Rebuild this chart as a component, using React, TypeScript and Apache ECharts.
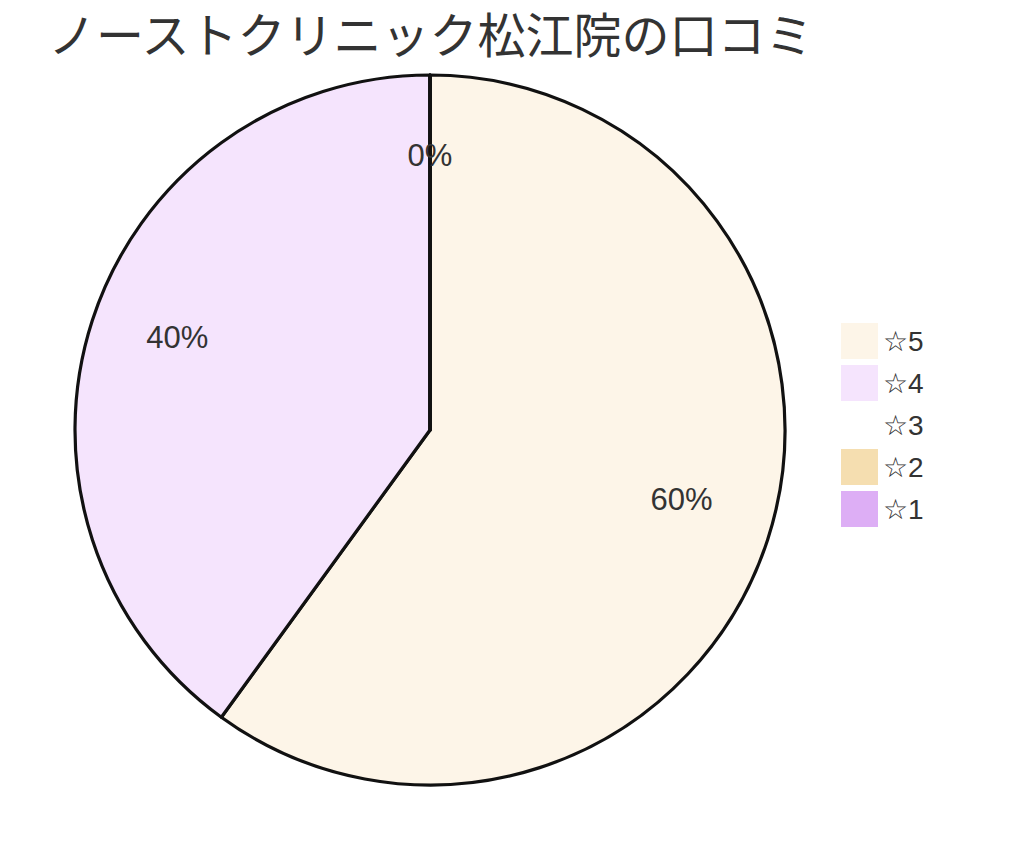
import React, { useEffect, useRef } from "react";
import * as echarts from "echarts";

const TITLE = "ノーストクリニック松江院の口コミ";
const categories = ["☆5", "☆4", "☆3", "☆2", "☆1"];
const values = [60, 40, 0, 0, 0];
const colors = ["#FDF5E8", "#F5E4FD", "#FFFFFF", "#F5DEB0", "#DDAEF5"];
// small per-label nudges: horizontal padding [right, left] and a spacer height below the text
const labelPadsH = [
  [16, 0],
  [0, 14],
  [0, 0],
  [0, 0],
  [0, 0],
];
const labelLift = [30, 16, 4, 4, 4];

export default function App() {
  const ref = useRef<HTMLDivElement>(null);
  useEffect(() => {
    document.body.style.margin = "0";
    const chart = echarts.init(ref.current!, null, { renderer: "svg" });
    const data = categories.map((name, i) => ({ name, value: values[i], itemStyle: { color: colors[i] } }));
    const rich: any = {
      t: { fontSize: 31, color: "#333333", fontFamily: "Liberation Sans", lineHeight: 36 },
    };
    labelLift.forEach((h, i) => {
      rich["s" + i] = { height: h, lineHeight: h, fontSize: 1 };
    });
    chart.setOption({
      animation: false,
      backgroundColor: "#FFFFFF",
      title: {
        text: TITLE,
        left: 48,
        top: 8,
        padding: 0,
        textStyle: { fontSize: 48, fontWeight: "normal", color: "#333333", fontFamily: "Noto Sans CJK JP" },
      },
      legend: {
        orient: "vertical",
        left: 841,
        top: 323,
        padding: 0,
        itemWidth: 37,
        itemHeight: 36,
        itemGap: 6,
        icon: "rect",
        data: categories,
        itemStyle: { borderWidth: 0 },
        textStyle: { fontSize: 28, lineHeight: 36, color: "#333333", fontFamily: "Liberation Sans" },
      },
      series: [
        {
          type: "pie",
          center: [430, 430],
          radius: [0, 355],
          startAngle: 90,
          clockwise: true,
          data,
          label: { show: false },
          labelLine: { show: false },
          itemStyle: { borderColor: "#111111", borderWidth: 3.2 },
          emphasis: { disabled: true },
        },
        {
          type: "pie",
          center: [430, 430],
          radius: [185, 355],
          startAngle: 90,
          clockwise: true,
          silent: true,
          legendHoverLink: false,
          data: categories.map((name, i) => ({
            name,
            value: values[i],
            label: { padding: [0, labelPadsH[i][0], 0, labelPadsH[i][1]] },
          })),
          itemStyle: { color: "rgba(0,0,0,0)", borderWidth: 0 },
          label: {
            show: true,
            position: "inside",
            formatter: (p: any) => "{t|" + Math.round(p.percent) + "%}\n{s" + p.dataIndex + "| }",
            rich,
            fontSize: 31,
            color: "#333333",
            fontFamily: "Liberation Sans",
          },
          labelLine: { show: false },
          emphasis: { disabled: true },
        },
      ],
    });
    return () => chart.dispose();
  }, []);
  return <div ref={ref} style={{ width: 1024, height: 861 }} />;
}
